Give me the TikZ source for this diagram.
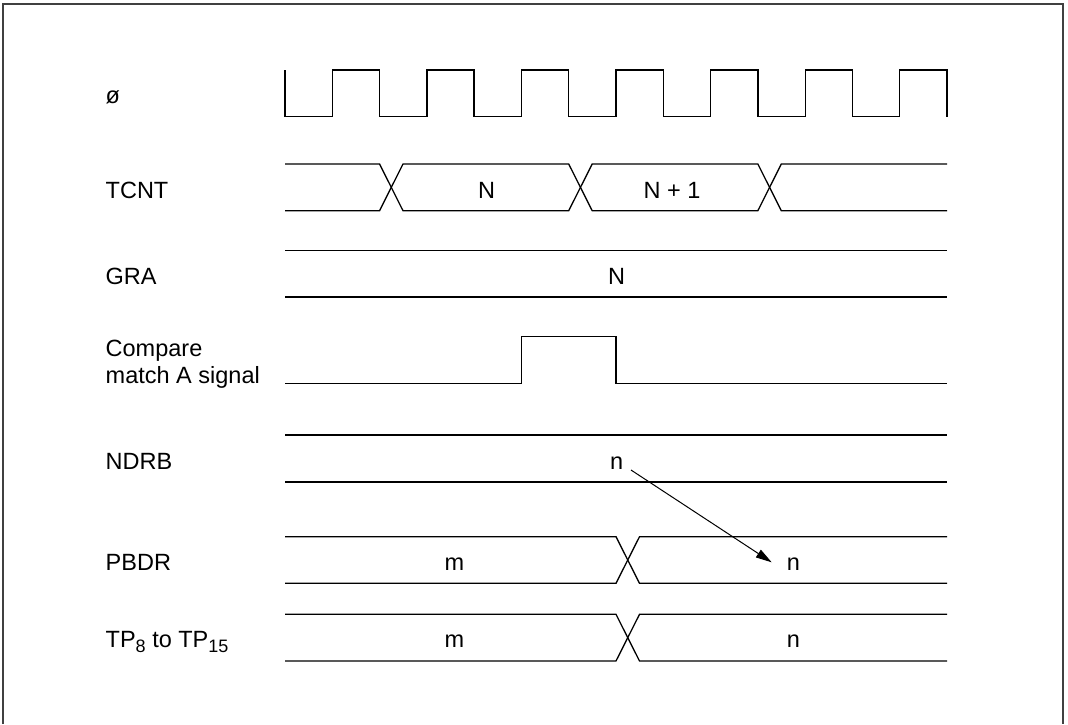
\documentclass[tikz,border=0pt]{standalone}
\usepackage{fontspec}
\setmainfont{Liberation Sans}
\usetikzlibrary{arrows.meta}
\newcommand{\lowidx}[1]{\raisebox{-5.5pt}{\fontsize{18}{20}\selectfont #1}}
\begin{document}
\begin{tikzpicture}[x=1pt,y=-1pt,
  sig/.style={line width=1.3pt,line join=miter},
  lbl/.style={anchor=base west,inner sep=0pt,font=\fontsize{23.5}{28}\selectfont},
  val/.style={anchor=base,inner sep=0pt,font=\fontsize{23.5}{28}\selectfont},
  frame/.style={line width=2pt,black!75},
  conn/.style={line width=1pt,-{Triangle[length=16pt,width=9pt]}}]
\useasboundingbox (0,0) rectangle (1068,724);
\draw[frame] (3,724) -- (3,4) -- (1063,4) -- (1063,724);

% labels
\node[lbl] (lphi)  at (105.5,103)   {ø};
\node[lbl] (ltcnt) at (105.5,198.3) {TCNT};
\node[lbl] (lgra)  at (105.5,284.5) {GRA};
\node[lbl] (lcmpa) at (105.5,356)   {Compare};
\node[lbl] (lcmpb) at (105.5,383)   {match A signal};
\node[lbl] (lndrb) at (105.5,469.5) {NDRB};
\node[lbl] (lpbdr) at (105.5,570.7) {PBDR};
\node[lbl] (ltp)   at (105.5,647)   {TP\lowidx{8} to TP\lowidx{15}};

% clock
\draw[sig] (285,70) -- (285,116.7)
  -- (332.29,116.7) -- (332.29,70) -- (379.57,70) -- (379.57,116.7)
  -- (426.86,116.7) -- (426.86,70) -- (474.14,70) -- (474.14,116.7)
  -- (521.43,116.7) -- (521.43,70) -- (568.71,70) -- (568.71,116.7)
  -- (616.00,116.7) -- (616.00,70) -- (663.29,70) -- (663.29,116.7)
  -- (710.57,116.7) -- (710.57,70) -- (757.86,70) -- (757.86,116.7)
  -- (805.14,116.7) -- (805.14,70) -- (852.43,70) -- (852.43,116.7)
  -- (899.71,116.7) -- (899.71,70) -- (947,70) -- (947,116.7);

% TCNT
\draw[sig] (285,164) -- (379.57,164) -- (403,210.7) -- (568.71,210.7) -- (592.2,164) -- (757.86,164) -- (781.3,210.7) -- (947,210.7);
\draw[sig] (285,210.7) -- (379.57,210.7) -- (403,164) -- (568.71,164) -- (592.2,210.7) -- (757.86,210.7) -- (781.3,164) -- (947,164);
\node[val] (vtn)  at (486.7,198.3) {N};
\node[val] (vtn1) at (672,198.3) {N + 1};

% GRA
\draw[sig] (285,250.7) -- (947,250.7);
\draw[sig] (285,297) -- (947,297);
\node[val] (vgn) at (616.7,284.5) {N};

% compare match
\draw[sig] (285,383.3) -- (521.43,383.3) -- (521.43,336.7) -- (616,336.7) -- (616,383.3) -- (947,383.3);

% NDRB
\draw[sig] (285,435) -- (947,435);
\draw[sig] (285,482) -- (947,482);
\node[val] (vnn) at (616.7,469.5) {n};

% PBDR
\draw[sig] (285,536.7) -- (616,536.7) -- (639.5,583.3) -- (947,583.3);
\draw[sig] (285,583.3) -- (616,583.3) -- (639.5,536.7) -- (947,536.7);
\node[val] (vpm) at (454.3,570.7) {m};
\node[val] (vpn) at (793.3,570.7) {n};

% TP8 to TP15
\draw[sig] (285,614.3) -- (616,614.3) -- (639.5,661) -- (947,661);
\draw[sig] (285,661) -- (616,661) -- (639.5,614.3) -- (947,614.3);
\node[val] (vtm) at (454.3,647) {m};
\node[val] (vtnn) at (793.3,647) {n};

% transfer arrow
\coordinate (as) at (631,470);
\coordinate (ae) at (771.7,562.3);
\draw[conn] (as) -- (ae);
\end{tikzpicture}
\end{document}
